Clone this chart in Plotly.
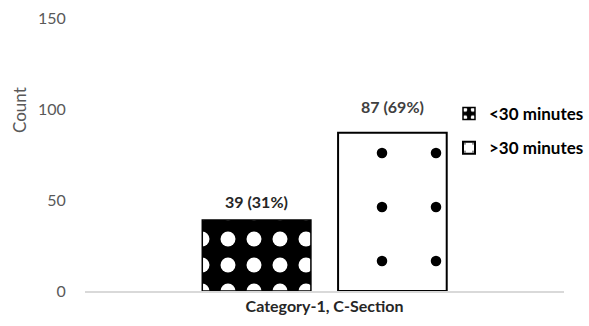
import plotly.graph_objects as go

# Data
category = ["Category-1, C-Section"]
series_names = ["<30 minutes", ">30 minutes"]
counts = [39, 87]
percents = [31, 69]
y_ticks = [0, 50, 100, 150]

FONT = "Lato"
GRAY = "#595959"
BARGAP = 0.433
BARGROUPGAP = 0.2

fig = go.Figure()

# <30 minutes: black bar with white dots
fig.add_trace(go.Bar(
    name=series_names[0], x=category, y=[counts[0]],
    marker=dict(
        color="black",
        line=dict(color="black", width=1.5),
        pattern=dict(shape=".", bgcolor="black", fgcolor="white",
                     size=26, solidity=0.26, fillmode="replace"),
    ),
    legendgroup="a",
))

# >30 minutes: white bar with sparse black dots
fig.add_trace(go.Bar(
    name=series_names[1], x=category, y=[counts[1]],
    marker=dict(
        color="white",
        line=dict(color="black", width=2),
        pattern=dict(shape=".", bgcolor="white", fgcolor="black",
                     size=54, solidity=0.03, fillmode="replace"),
    ),
    legendgroup="b",
))

# Value labels above the bars (bar centres within the category group)
slot = (1 - BARGAP) / 2
centres = [-slot / 2, slot / 2]
label_colors = ["#262626", "#404040"]
shifts = [7, 15]
for i in range(2):
    fig.add_annotation(
        x=centres[i], y=counts[i], xref="x", yref="y",
        text=f"<b>{counts[i]} ({percents[i]}%)</b>",
        showarrow=False, yanchor="bottom", yshift=shifts[i],
        font=dict(family=FONT, size=16, color=label_colors[i]),
    )

# Y-axis title
fig.add_annotation(
    x=(19 - 85) / 479, y=(291 - 110) / 273, xref="paper", yref="paper",
    xanchor="center", yanchor="middle",
    text="Count", showarrow=False, textangle=-90,
    font=dict(family=FONT, size=17, color=GRAY),
)

fig.update_layout(
    width=589, height=326,
    margin=dict(l=85, r=25, t=18, b=35, autoexpand=False),
    plot_bgcolor="white", paper_bgcolor="white",
    barmode="group", bargap=BARGAP, bargroupgap=BARGROUPGAP,
    showlegend=True,
    legend=dict(
        xref="paper", yref="paper",
        x=(449 - 85) / 479, y=(291 - 96) / 273, xanchor="left", yanchor="top",
        font=dict(family=FONT, size=17, color="black", weight="bold"),
        tracegroupgap=9, bgcolor="rgba(0,0,0,0)",
    ),
    xaxis=dict(
        showline=True, linecolor="#d9d9d9", linewidth=1.5,
        showgrid=False, ticks="",
        tickfont=dict(family=FONT, size=16, color="#262626", weight="bold"),
    ),
    yaxis=dict(
        range=[0, 150], tickvals=y_ticks, showgrid=False, zeroline=False,
        showline=False, ticks="outside", ticklen=15,
        tickcolor="rgba(0,0,0,0)",
        tickfont=dict(family=FONT, size=16, color=GRAY),
    ),
)

fig.write_html("out.html")
